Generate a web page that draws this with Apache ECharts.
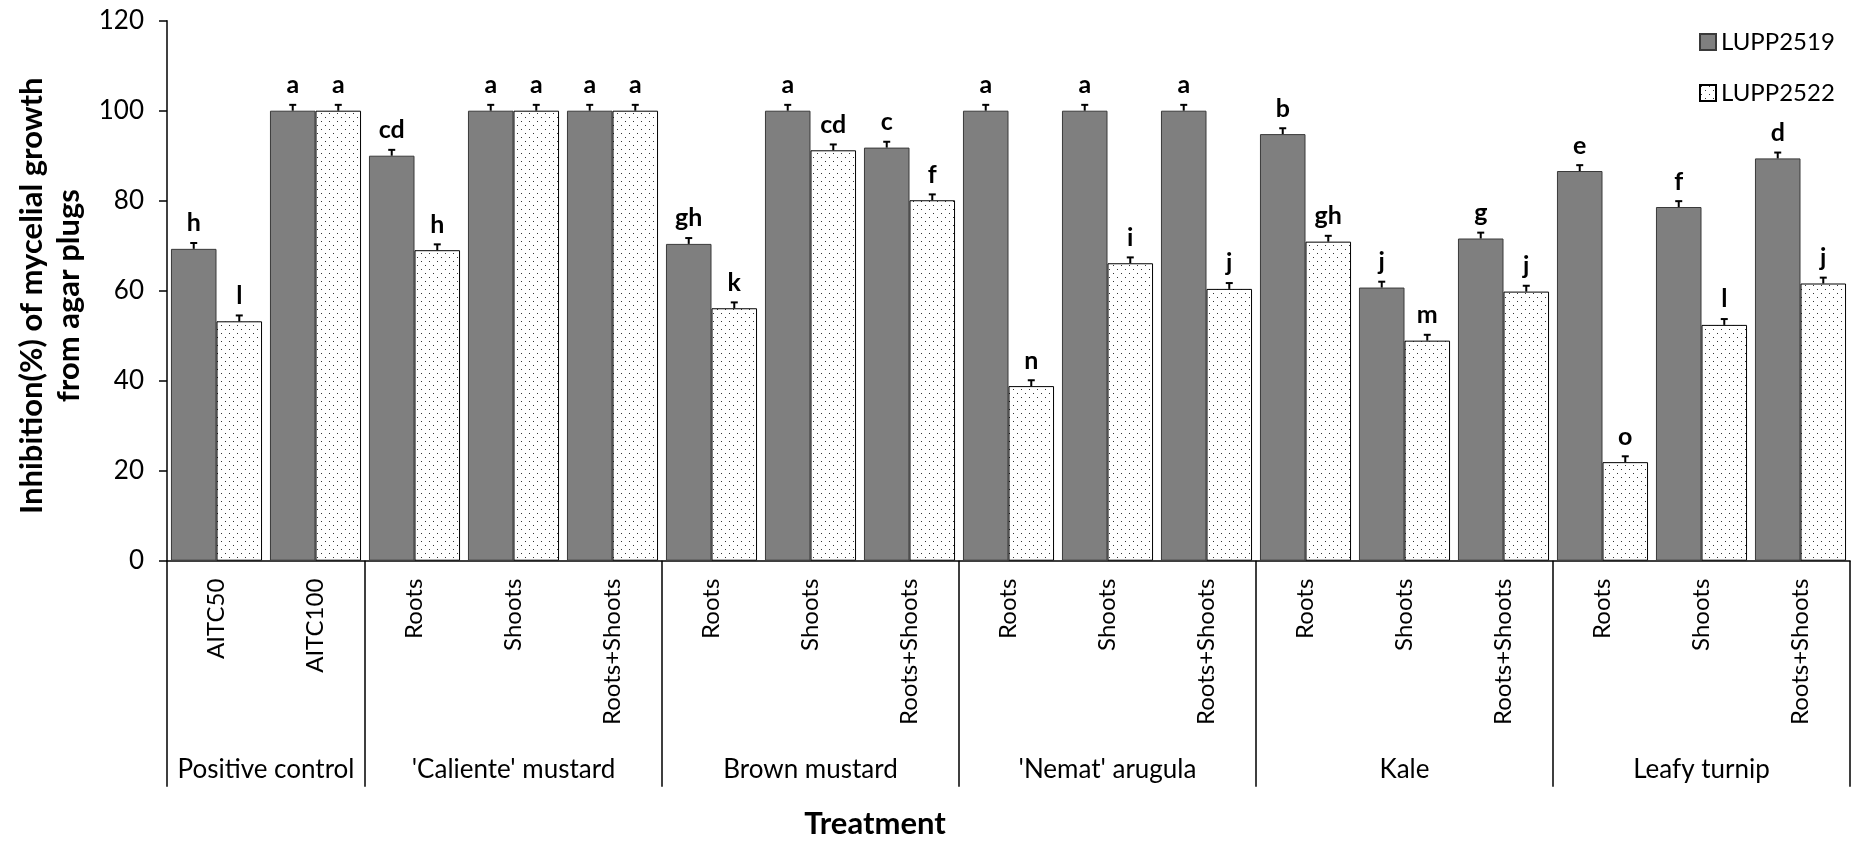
<!DOCTYPE html>
<html>
<head>
<meta charset="utf-8">
<script src="https://cdn.jsdelivr.net/npm/echarts@6/dist/echarts.min.js"></script>
<style>
html,body{margin:0;padding:0;background:#fff;}
#chart{width:1852px;height:841px;}
</style>
</head>
<body>
<div id="chart"></div>
<script>
// ---- data ----
var categories = ['AITC50','AITC100','Roots','Shoots','Roots+Shoots','Roots','Shoots','Roots+Shoots','Roots','Shoots','Roots+Shoots','Roots','Shoots','Roots+Shoots','Roots','Shoots','Roots+Shoots'];
var groupNames = ['Positive control',"'Caliente' mustard",'Brown mustard',"'Nemat' arugula",'Kale','Leafy turnip'];
var groupSizes = [2,3,3,3,3,3];
var seriesNames = ['LUPP2519','LUPP2522'];
var lupp2519 = [69.3,100,90.0,100,100,70.4,100,91.8,100,100,100,94.8,60.7,71.6,86.6,78.6,89.4];
var lupp2522 = [53.2,100,69.0,100,100,56.1,91.2,80.1,38.8,66.1,60.4,70.9,48.9,59.8,21.9,52.4,61.6];
var err2519 = [1.3,1.3,1.3,1.3,1.3,1.3,1.3,1.3,1.3,1.3,1.3,1.3,1.3,1.3,1.3,1.3,1.3];
var err2522 = [1.3,1.3,1.3,1.3,1.3,1.3,1.3,1.3,1.3,1.3,1.3,1.3,1.3,1.3,1.3,1.3,1.3];
var letters2519 = ['h','a','cd','a','a','gh','a','c','a','a','a','b','j','g','e','f','d'];
var letters2522 = ['l','a','h','a','a','k','cd','f','n','i','j','gh','m','j','o','l','j'];
var yTicks = {min:0, max:120, interval:20};

// ---- dotted pattern ----
var pc = document.createElement('canvas');
pc.width = 8; pc.height = 8;
var pctx = pc.getContext('2d');
pctx.fillStyle = '#ffffff'; pctx.fillRect(0,0,8,8);
pctx.fillStyle = '#333333';
pctx.fillRect(1,1,1,1); pctx.fillRect(5,5,1,1);
var dotted = {image: pc, repeat: 'repeat'};

// secondary axis: half-category points for group separators and labels
var nHalf = categories.length * 2 + 1;
var groupAxisData = [];
var boundaryIdx = {};
var centerLabel = {};
var acc = 0;
boundaryIdx[0] = true;
for (var g = 0; g < groupNames.length; g++) {
  centerLabel[acc * 2 + groupSizes[g]] = groupNames[g];
  acc += groupSizes[g];
  boundaryIdx[acc * 2] = true;
}
for (var k = 0; k < nHalf; k++) groupAxisData.push(centerLabel[k] || ('_' + k));

var FONT = 'Lato';
var BAR_FRAC = 0.46;

function errSeries(vals, errs, side) {
  return {
    type: 'custom',
    xAxisIndex: 0,
    silent: true,
    z: 5,
    data: vals.map(function (v, i) { return [i, v, errs[i]]; }),
    renderItem: function (params, api) {
      var i = api.value(0), v = api.value(1), e = api.value(2);
      var bw = api.size([1, 0])[0];
      var p0 = api.coord([i, v]);
      var p1 = api.coord([i, v + e]);
      var x = p0[0] + side * bw * BAR_FRAC / 2;
      var st = {stroke: '#000', lineWidth: 2};
      return {
        type: 'group',
        children: [
          {type: 'line', shape: {x1: x, y1: p0[1], x2: x, y2: p1[1]}, style: st},
          {type: 'line', shape: {x1: x - 3.5, y1: p1[1], x2: x + 3.5, y2: p1[1]}, style: st}
        ]
      };
    }
  };
}

function barSeries(name, vals, letters, errs, style) {
  return {
    name: name,
    type: 'bar',
    xAxisIndex: 0,
    barWidth: (BAR_FRAC * 100) + '%',
    barGap: '0%',
    data: vals,
    itemStyle: style,
    label: {
      show: true,
      position: 'top',
      distance: 13,
      fontFamily: FONT,
      fontWeight: 'bold',
      fontSize: 25,
      color: '#000',
      formatter: function (p) { return letters[p.dataIndex]; }
    }
  };
}

var chart = echarts.init(document.getElementById('chart'), null, {renderer: 'canvas'});
chart.setOption({
  animation: false,
  backgroundColor: '#fff',
  textStyle: {fontFamily: FONT},
  grid: {left: 167, top: 20.7, right: 2, bottom: 280.3, containLabel: false, outerBoundsMode: 'none'},
  legend: {
    data: seriesNames,
    orient: 'vertical',
    left: 1694,
    top: 25,
    itemWidth: 16,
    itemHeight: 16,
    itemGap: 27,
    icon: 'rect',
    textStyle: {fontFamily: FONT, fontSize: 24, color: '#000'}
  },
  xAxis: [
    {
      type: 'category',
      data: categories,
      position: 'bottom',
      axisLine: {show: true, lineStyle: {color: '#000', width: 1.5}},
      axisTick: {show: false},
      axisLabel: {rotate: 90, interval: 0, margin: 18, fontFamily: FONT, fontSize: 24, color: '#000'},
      name: 'Treatment',
      nameLocation: 'middle',
      nameGap: 248,
      nameTextStyle: {fontFamily: FONT, fontWeight: 'bold', fontSize: 31, color: '#000', padding: [0, 267, 0, 0]}
    },
    {
      type: 'category',
      data: groupAxisData,
      boundaryGap: false,
      position: 'bottom',
      offset: 0,
      axisLine: {show: false},
      axisTick: {
        show: true,
        length: 226,
        lineStyle: {color: '#000', width: 1.5},
        interval: function (idx) { return !!boundaryIdx[idx]; }
      },
      axisLabel: {
        show: true,
        interval: 0,
        margin: 196,
        fontFamily: FONT,
        fontSize: 26,
        color: '#000',
        formatter: function (v) { return v.charAt(0) === '_' ? '' : v; }
      },
      splitLine: {show: false}
    }
  ],
  yAxis: {
    type: 'value',
    min: yTicks.min,
    max: yTicks.max,
    interval: yTicks.interval,
    axisLine: {show: true, lineStyle: {color: '#000', width: 1.5}},
    axisTick: {show: true, length: 8, lineStyle: {color: '#000', width: 1.5}},
    axisLabel: {margin: 23, fontFamily: FONT, fontSize: 26, color: '#000'},
    splitLine: {show: false},
    name: 'Inhibition(%) of mycelial growth\nfrom agar plugs',
    nameLocation: 'middle',
    nameRotate: 90,
    nameGap: 79,
    nameTextStyle: {fontFamily: FONT, fontWeight: 'bold', fontSize: 31, lineHeight: 37, color: '#000', padding: [0, 10, 0, 0]}
  },
  series: [
    barSeries(seriesNames[0], lupp2519, letters2519, err2519, {color: '#7f7f7f', borderColor: '#3a3a3a', borderWidth: 1}),
    barSeries(seriesNames[1], lupp2522, letters2522, err2522, {color: dotted, borderColor: '#000', borderWidth: 1}),
    errSeries(lupp2519, err2519, -1),
    errSeries(lupp2522, err2522, 1)
  ]
});
</script>
</body>
</html>
